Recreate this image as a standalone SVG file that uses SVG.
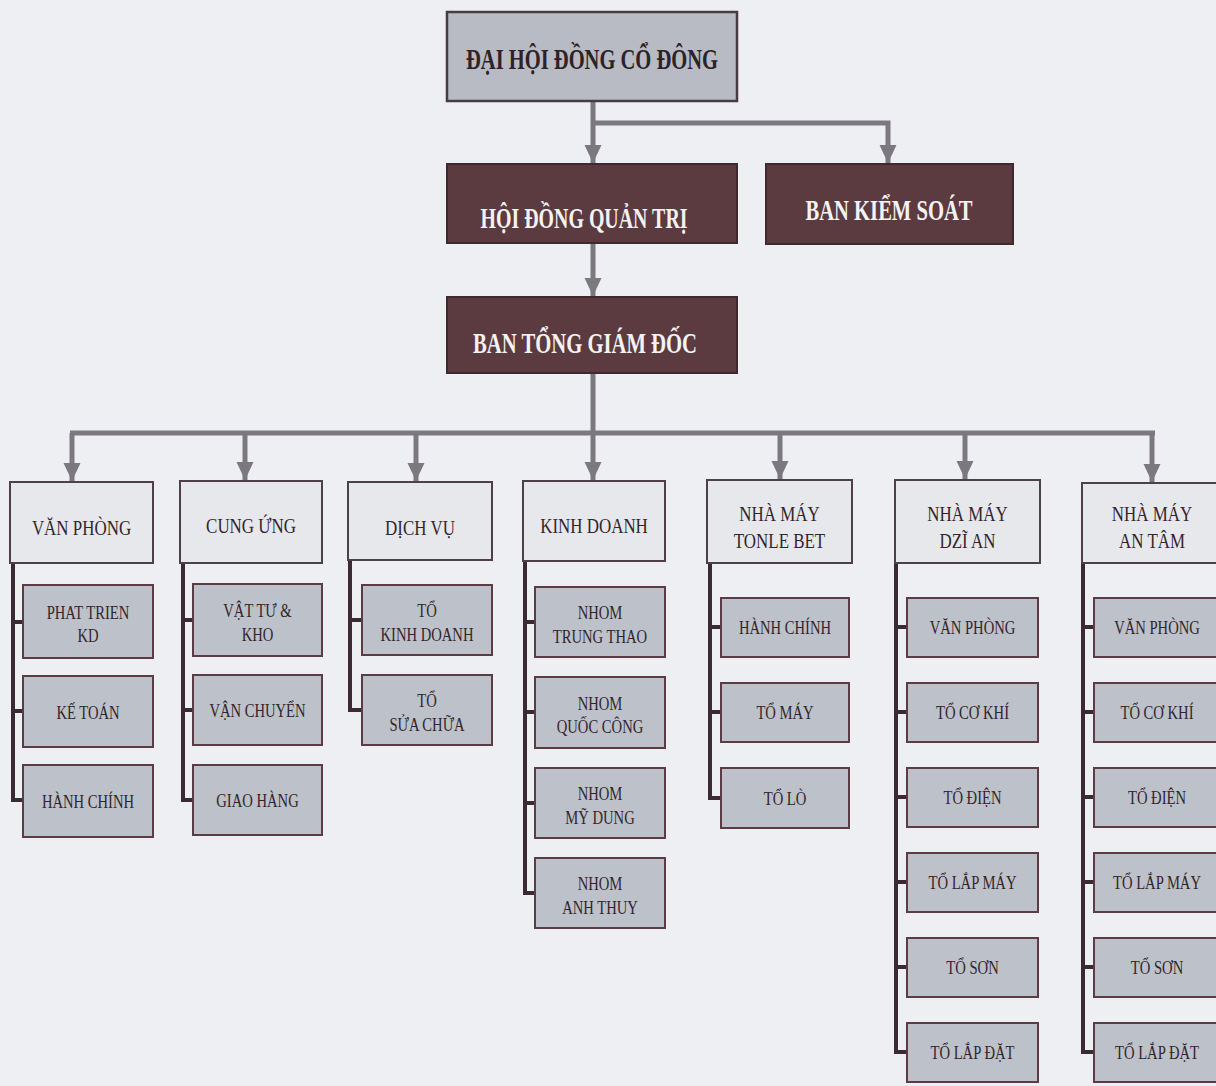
<svg xmlns="http://www.w3.org/2000/svg" width="1216" height="1086" viewBox="0 0 1216 1086">
<defs>
<marker id="arr" markerUnits="userSpaceOnUse" markerWidth="20" markerHeight="18" refX="18" refY="8.5" orient="auto">
<path d="M0,0 L18,8.5 L0,17 Z" fill="#7b7880"/>
</marker>
</defs>
<style>
.bg{fill:#edeff3}
.top{fill:#b8bbc3;stroke:#4a3b42;stroke-width:2.5}
.dark{fill:#5b3b40;stroke:#3e2a2e;stroke-width:2}
.dept{fill:#e6e8ec;stroke:#4f4048;stroke-width:2}
.sub{fill:#bdc1c9;stroke:#5a3c42;stroke-width:2}
.conn{fill:none;stroke:#7b7880;stroke-width:5}
.tree{fill:none;stroke:#3b2a31;stroke-width:4}
.tb{font-family:"Liberation Serif","Times New Roman",serif;font-weight:bold;font-size:30px;text-anchor:middle}
.tw{fill:#f4f2f2}
.tk{fill:#2e2229}
.td{font-family:"Liberation Serif","Times New Roman",serif;font-size:22px;text-anchor:middle;fill:#33252c}
.ts{font-family:"Liberation Serif","Times New Roman",serif;font-size:19px;text-anchor:middle;fill:#33252c}
</style>
<rect class="bg" x="0" y="0" width="1216" height="1086"/>

<g id="connectors">
<path class="conn" d="M593,101 V163" marker-end="url(#arr)"/>
<path class="conn" d="M593,123 H888 V163" marker-end="url(#arr)"/>
<path class="conn" d="M593,243 V296" marker-end="url(#arr)"/>
<path class="conn" d="M593,373 V433"/>
<path class="conn" d="M70,433 H1155"/>
<path class="conn" d="M72,433 V481" marker-end="url(#arr)"/>
<path class="conn" d="M245,433 V480" marker-end="url(#arr)"/>
<path class="conn" d="M416,433 V481" marker-end="url(#arr)"/>
<path class="conn" d="M593,433 V480" marker-end="url(#arr)"/>
<path class="conn" d="M780,433 V479" marker-end="url(#arr)"/>
<path class="conn" d="M965,433 V479" marker-end="url(#arr)"/>
<path class="conn" d="M1152,433 V482" marker-end="url(#arr)"/>
<path class="tree" d="M13,563 V800 H23 M13,622 H23 M13,711 H23"/>
<path class="tree" d="M183,563 V800 H193 M183,620 H193 M183,710 H193"/>
<path class="tree" d="M350,560 V710 H362 M350,620 H362"/>
<path class="tree" d="M525,561 V893 H535 M525,622 H535 M525,712 H535 M525,803 H535"/>
<path class="tree" d="M710,563 V798 H721 M710,627 H721 M710,712 H721"/>
<path class="tree" d="M896,563 V1052 H907 M896,627 H907 M896,712 H907 M896,797 H907 M896,882 H907 M896,967 H907"/>
<path class="tree" d="M1083,563 V1052 H1094 M1083,627 H1094 M1083,712 H1094 M1083,797 H1094 M1083,882 H1094 M1083,967 H1094"/>
</g>

<g id="dai-hoi-dong-co-dong">
<rect class="top" x="447" y="12" width="290" height="89"/>
<text class="tb tk" x="592" y="69" textLength="252" lengthAdjust="spacingAndGlyphs">ĐẠI HỘI ĐỒNG CỔ ĐÔNG</text>
</g>
<g id="hoi-dong-quan-tri">
<rect class="dark" x="447" y="164" width="290" height="79"/>
<text class="tb tw" x="584" y="228" textLength="207" lengthAdjust="spacingAndGlyphs">HỘI ĐỒNG QUẢN TRỊ</text>
</g>
<g id="ban-kiem-soat">
<rect class="dark" x="766" y="164" width="247" height="80"/>
<text class="tb tw" x="889" y="220" textLength="167" lengthAdjust="spacingAndGlyphs">BAN KIỂM SOÁT</text>
</g>
<g id="ban-tong-giam-doc">
<rect class="dark" x="447" y="297" width="290" height="76"/>
<text class="tb tw" x="585" y="353" textLength="224" lengthAdjust="spacingAndGlyphs">BAN TỔNG GIÁM ĐỐC</text>
</g>

<g id="van-phong">
<rect class="dept" x="10" y="482" width="143" height="81"/>
<text class="td" transform="translate(81.5 535) scale(0.77 1)">VĂN PHÒNG</text>
</g>
<g id="vp-phat-trien-kd"><rect class="sub" x="23" y="585" width="130" height="73"/>
<text class="ts" transform="translate(88 621.5) scale(0.77 1)"><tspan x="0" y="-3">PHAT TRIEN</tspan><tspan x="0" y="21">KD</tspan></text></g>
<g id="vp-ke-toan"><rect class="sub" x="23" y="676" width="130" height="71"/>
<text class="ts" transform="translate(88 718.5) scale(0.77 1)">KẾ TOÁN</text></g>
<g id="vp-hanh-chinh"><rect class="sub" x="23" y="765" width="130" height="72"/>
<text class="ts" transform="translate(88 808) scale(0.77 1)">HÀNH CHÍNH</text></g>

<g id="cung-ung">
<rect class="dept" x="180" y="481" width="142" height="82"/>
<text class="td" transform="translate(251 533) scale(0.77 1)">CUNG ỨNG</text>
</g>
<g id="cu-vat-tu-kho"><rect class="sub" x="193" y="584" width="129" height="72"/>
<text class="ts" transform="translate(257.5 620) scale(0.77 1)"><tspan x="0" y="-3">VẬT TƯ &amp;</tspan><tspan x="0" y="21">KHO</tspan></text></g>
<g id="cu-van-chuyen"><rect class="sub" x="193" y="675" width="129" height="70"/>
<text class="ts" transform="translate(257.5 717) scale(0.77 1)">VẬN CHUYỂN</text></g>
<g id="cu-giao-hang"><rect class="sub" x="193" y="765" width="129" height="70"/>
<text class="ts" transform="translate(257.5 807) scale(0.77 1)">GIAO HÀNG</text></g>

<g id="dich-vu">
<rect class="dept" x="348" y="482" width="144" height="78"/>
<text class="td" transform="translate(420 535) scale(0.77 1)">DỊCH VỤ</text>
</g>
<g id="dv-to-kinh-doanh"><rect class="sub" x="362" y="585" width="130" height="70"/>
<text class="ts" transform="translate(427 620) scale(0.77 1)"><tspan x="0" y="-3">TỔ</tspan><tspan x="0" y="21">KINH DOANH</tspan></text></g>
<g id="dv-to-sua-chua"><rect class="sub" x="362" y="675" width="130" height="70"/>
<text class="ts" transform="translate(427 710) scale(0.77 1)"><tspan x="0" y="-3">TỔ</tspan><tspan x="0" y="21">SỬA CHỮA</tspan></text></g>

<g id="kinh-doanh">
<rect class="dept" x="523" y="481" width="142" height="80"/>
<text class="td" transform="translate(594 533) scale(0.77 1)">KINH DOANH</text>
</g>
<g id="kd-trung-thao"><rect class="sub" x="535" y="587" width="130" height="70"/>
<text class="ts" transform="translate(600 622) scale(0.77 1)"><tspan x="0" y="-3">NHOM</tspan><tspan x="0" y="21">TRUNG THAO</tspan></text></g>
<g id="kd-quoc-cong"><rect class="sub" x="535" y="677" width="130" height="71"/>
<text class="ts" transform="translate(600 712.5) scale(0.77 1)"><tspan x="0" y="-3">NHOM</tspan><tspan x="0" y="21">QUỐC CÔNG</tspan></text></g>
<g id="kd-my-dung"><rect class="sub" x="535" y="768" width="130" height="70"/>
<text class="ts" transform="translate(600 803) scale(0.77 1)"><tspan x="0" y="-3">NHOM</tspan><tspan x="0" y="21">MỸ DUNG</tspan></text></g>
<g id="kd-anh-thuy"><rect class="sub" x="535" y="858" width="130" height="70"/>
<text class="ts" transform="translate(600 893) scale(0.77 1)"><tspan x="0" y="-3">NHOM</tspan><tspan x="0" y="21">ANH THUY</tspan></text></g>

<g id="nha-may-tonle-bet">
<rect class="dept" x="707" y="480" width="145" height="83"/>
<text class="td" transform="translate(779.5 0) scale(0.77 1)"><tspan x="0" y="521">NHÀ MÁY</tspan><tspan x="0" y="548">TONLE BET</tspan></text>
</g>
<g id="tb-hanh-chinh"><rect class="sub" x="721" y="598" width="128" height="59"/>
<text class="ts" transform="translate(785 634) scale(0.77 1)">HÀNH CHÍNH</text></g>
<g id="tb-to-may"><rect class="sub" x="721" y="683" width="128" height="59"/>
<text class="ts" transform="translate(785 719) scale(0.77 1)">TỔ MÁY</text></g>
<g id="tb-to-lo"><rect class="sub" x="721" y="768" width="128" height="60"/>
<text class="ts" transform="translate(785 804.5) scale(0.77 1)">TỔ LÒ</text></g>

<g id="nha-may-dzi-an">
<rect class="dept" x="895" y="480" width="145" height="83"/>
<text class="td" transform="translate(967.5 0) scale(0.77 1)"><tspan x="0" y="521">NHÀ MÁY</tspan><tspan x="0" y="548">DZĨ AN</tspan></text>
</g>
<g id="da-van-phong"><rect class="sub" x="907" y="598" width="131" height="59"/>
<text class="ts" transform="translate(972.5 634) scale(0.77 1)">VĂN PHÒNG</text></g>
<g id="da-to-co-khi"><rect class="sub" x="907" y="683" width="131" height="59"/>
<text class="ts" transform="translate(972.5 719) scale(0.77 1)">TỔ CƠ KHÍ</text></g>
<g id="da-to-dien"><rect class="sub" x="907" y="768" width="131" height="59"/>
<text class="ts" transform="translate(972.5 804) scale(0.77 1)">TỔ ĐIỆN</text></g>
<g id="da-to-lap-may"><rect class="sub" x="907" y="853" width="131" height="59"/>
<text class="ts" transform="translate(972.5 889) scale(0.77 1)">TỔ LẮP MÁY</text></g>
<g id="da-to-son"><rect class="sub" x="907" y="938" width="131" height="59"/>
<text class="ts" transform="translate(972.5 974) scale(0.77 1)">TỔ SƠN</text></g>
<g id="da-to-lap-dat"><rect class="sub" x="907" y="1023" width="131" height="59"/>
<text class="ts" transform="translate(972.5 1059) scale(0.77 1)">TỔ LẮP ĐẶT</text></g>

<g id="nha-may-an-tam">
<rect class="dept" x="1082" y="483" width="142" height="80"/>
<text class="td" transform="translate(1152 0) scale(0.77 1)"><tspan x="0" y="521">NHÀ MÁY</tspan><tspan x="0" y="548">AN TÂM</tspan></text>
</g>
<g id="at-van-phong"><rect class="sub" x="1094" y="598" width="132" height="59"/>
<text class="ts" transform="translate(1157 634) scale(0.77 1)">VĂN PHÒNG</text></g>
<g id="at-to-co-khi"><rect class="sub" x="1094" y="683" width="132" height="59"/>
<text class="ts" transform="translate(1157 719) scale(0.77 1)">TỔ CƠ KHÍ</text></g>
<g id="at-to-dien"><rect class="sub" x="1094" y="768" width="132" height="59"/>
<text class="ts" transform="translate(1157 804) scale(0.77 1)">TỔ ĐIỆN</text></g>
<g id="at-to-lap-may"><rect class="sub" x="1094" y="853" width="132" height="59"/>
<text class="ts" transform="translate(1157 889) scale(0.77 1)">TỔ LẮP MÁY</text></g>
<g id="at-to-son"><rect class="sub" x="1094" y="938" width="132" height="59"/>
<text class="ts" transform="translate(1157 974) scale(0.77 1)">TỔ SƠN</text></g>
<g id="at-to-lap-dat"><rect class="sub" x="1094" y="1023" width="132" height="59"/>
<text class="ts" transform="translate(1157 1059) scale(0.77 1)">TỔ LẮP ĐẶT</text></g>
</svg>
